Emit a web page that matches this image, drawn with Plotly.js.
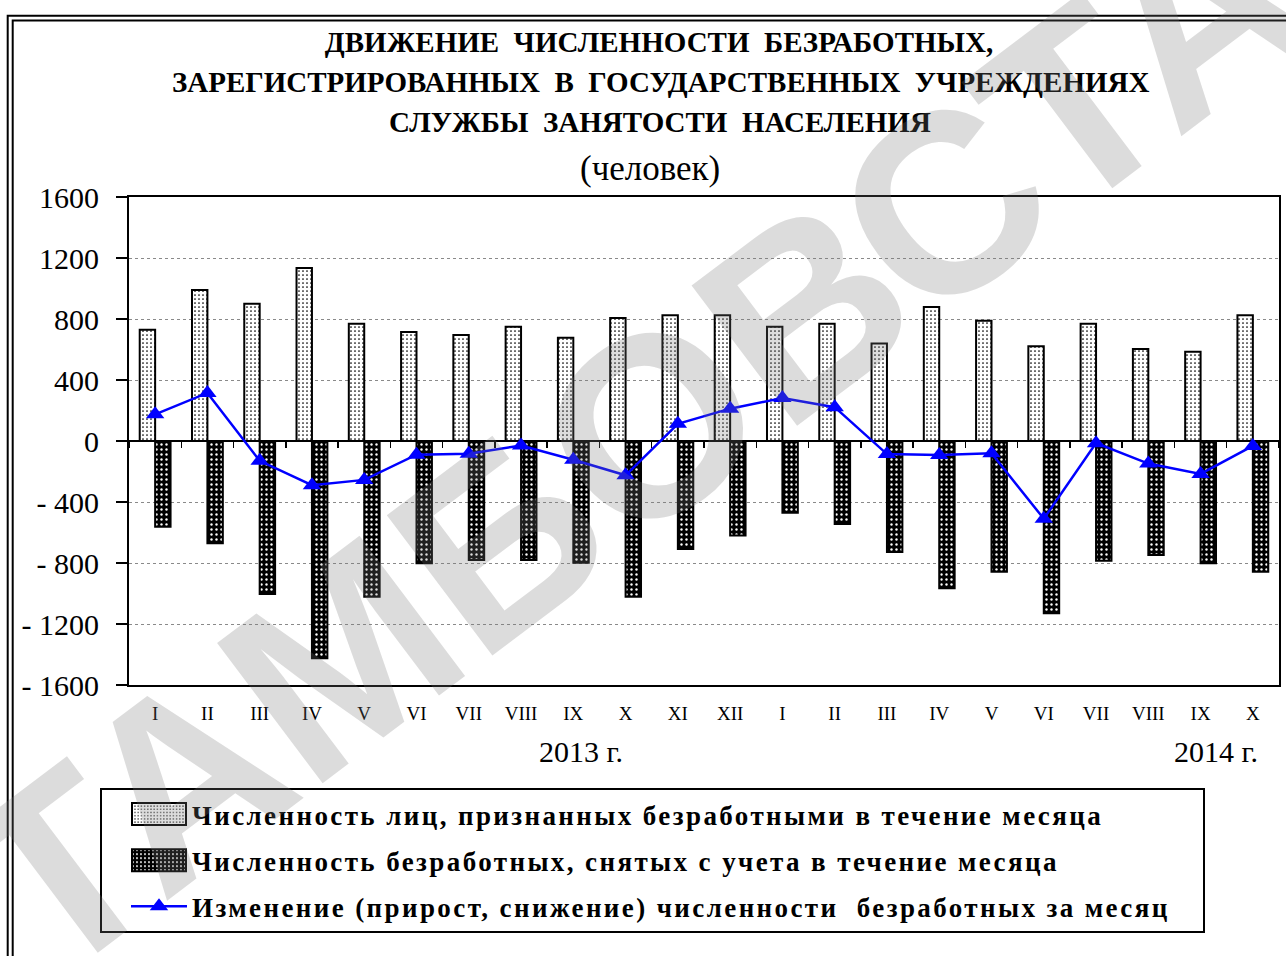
<!DOCTYPE html>
<html><head><meta charset="utf-8">
<script src="https://cdn.plot.ly/plotly-3.0.1.min.js"></script>
<style>
html,body{margin:0;padding:0;background:#fff}
.legendtext{letter-spacing:2.4px}
</style>
</head><body><div id="chart" style="width:1286px;height:956px"></div>
<script>
const periods = ['2013-I','2013-II','2013-III','2013-IV','2013-V','2013-VI','2013-VII','2013-VIII','2013-IX','2013-X','2013-XI','2013-XII','2014-I','2014-II','2014-III','2014-IV','2014-V','2014-VI','2014-VII','2014-VIII','2014-IX','2014-X'];
const monthLabels = ['I','II','III','IV','V','VI','VII','VIII','IX','X','XI','XII','I','II','III','IV','V','VI','VII','VIII','IX','X'];
const registered = [730, 990, 900, 1135, 769, 715, 695, 750, 677, 806, 824, 824, 750, 769, 640, 879, 789, 621, 769, 603, 586, 824];
const removed = [-562, -671, -1003, -1425, -1021, -802, -780, -780, -798, -1021, -708, -619, -470, -544, -728, -966, -857, -1130, -785, -748, -802, -857];
const change = [175, 315, -130, -290, -255, -90, -83, -30, -123, -225, 113, 212, 282, 222, -86, -92, -80, -510, -14, -148, -216, -32];
const yTickVals = [1600, 1200, 800, 400, 0, -400, -800, -1200, -1600];
const yTickText = ['1600', '1200', '800', '400', '0', '-\u00a0400', '-\u00a0800', '-\u00a01200', '-\u00a01600'];
const seriesNames = [
  'Численность лиц, признанных безработными в течение месяца',
  'Численность безработных, снятых с учета в течение месяца',
  'Изменение (прирост, снижение) численности\u00a0 безработных за месяц\u00a0\u00a0\u00a0'
];
const titleLines = [
  'ДВИЖЕНИЕ\u00a0 ЧИСЛЕННОСТИ\u00a0 БЕЗРАБОТНЫХ,',
  'ЗАРЕГИСТРИРОВАННЫХ\u00a0 В\u00a0 ГОСУДАРСТВЕННЫХ\u00a0 УЧРЕЖДЕНИЯХ',
  'СЛУЖБЫ\u00a0 ЗАНЯТОСТИ\u00a0 НАСЕЛЕНИЯ'
];
const unitLabel = '(человек)';
const yearLabels = ['2013 г.', '2014 г.'];
const watermark = 'ТАМБОВСТАТ';

const SERIF = 'Liberation Serif, Times New Roman, serif';

const traces = [
  {
    type: 'bar', x: periods, y: registered, name: seriesNames[0], legendgroup: 'a',
    marker: {
      color: '#ffffff',
      line: {color: '#000000', width: 2},
      pattern: {shape: '.', fgcolor: '#000000', bgcolor: '#ffffff', size: 4, solidity: 0.15}
    }
  },
  {
    type: 'bar', x: periods, y: removed, name: seriesNames[1], legendgroup: 'b',
    marker: {
      color: '#000000',
      line: {color: '#000000', width: 2},
      pattern: {shape: '.', fgcolor: '#ffffff', bgcolor: '#000000', size: 5, solidity: 0.18}
    }
  },
  {
    type: 'scatter', mode: 'lines+markers', x: periods, y: change, xaxis: 'x2',
    name: seriesNames[2], legendgroup: 'c',
    line: {color: '#0000ff', width: 2.5},
    marker: {symbol: 'triangle-up', size: 16, color: '#0000ff'}
  }
];

const W = 1286, H = 956, L = 129, R = 7, T = 197, B = 271;
const pw = W - L - R, ph = H - T - B;
const px = v => (v - L) / pw;
const py = v => (H - B - v) / ph;

const layout = {
  width: W, height: H,
  margin: {l: L, r: R, t: T, b: B, pad: 0},
  paper_bgcolor: '#ffffff', plot_bgcolor: '#ffffff',
  barmode: 'group', bargap: 0.41, bargroupgap: 0,
  showlegend: true,
  title: {
    text: titleLines[0],
    font: {family: SERIF, size: 29, weight: 700, color: '#000000'},
    xref: 'container', yref: 'container', x: 659 / W, y: 1 - 42 / H,
    xanchor: 'center', yanchor: 'middle'
  },
  xaxis: {
    type: 'category', range: [-0.5, 21.5],
    tickmode: 'array', tickvals: periods, ticktext: monthLabels,
    ticks: '', showgrid: false, zeroline: false,
    showline: true, linecolor: '#000000', linewidth: 2, mirror: true,
    tickfont: {family: SERIF, size: 19, color: '#000000'},
    ticklabelstandoff: 10
  },
  xaxis2: {
    type: 'category', overlaying: 'x', matches: 'x', anchor: 'free', position: 0.5,
    tickmode: 'array', tickvals: periods,
    ticks: 'outside', tickson: 'boundaries', ticklen: 6, tickwidth: 1.5, tickcolor: '#000000',
    showticklabels: false, showgrid: false, showline: false, zeroline: false
  },
  yaxis: {
    range: [-1600, 1600],
    tickmode: 'array', tickvals: yTickVals, ticktext: yTickText,
    ticks: 'outside', ticklen: 11, tickwidth: 2, tickcolor: '#000000',
    showline: true, linecolor: '#000000', linewidth: 2, mirror: true,
    showgrid: true, gridcolor: '#8a8a8a', gridwidth: 1, griddash: '3px,3px',
    zeroline: true, zerolinecolor: '#000000', zerolinewidth: 2,
    tickfont: {family: SERIF, size: 30, color: '#000000'},
    ticklabelstandoff: 11
  },
  legend: {
    x: px(100), y: py(788), xanchor: 'left', yanchor: 'top',
    bgcolor: '#ffffff', bordercolor: '#000000', borderwidth: 2,
    font: {family: SERIF, size: 27, weight: 700, color: '#000000'},
    itemwidth: 80, tracegroupgap: 8, traceorder: 'grouped'
  },
  annotations: [
    {text: titleLines[1], xref: 'paper', yref: 'paper', x: px(660), y: py(82), showarrow: false,
     xanchor: 'center', yanchor: 'middle', font: {family: SERIF, size: 29, weight: 700, color: '#000000'}},
    {text: titleLines[2], xref: 'paper', yref: 'paper', x: px(660), y: py(122), showarrow: false,
     xanchor: 'center', yanchor: 'middle', font: {family: SERIF, size: 29, weight: 700, color: '#000000'}},
    {text: unitLabel, xref: 'paper', yref: 'paper', x: px(650), y: py(168), showarrow: false,
     xanchor: 'center', yanchor: 'middle', font: {family: SERIF, size: 35, color: '#000000'}},
    {text: yearLabels[0], xref: 'paper', yref: 'paper', x: px(581), y: py(751), showarrow: false,
     xanchor: 'center', yanchor: 'middle', font: {family: SERIF, size: 30, color: '#000000'}},
    {text: yearLabels[1], xref: 'paper', yref: 'paper', x: px(1216), y: py(751), showarrow: false,
     xanchor: 'center', yanchor: 'middle', font: {family: SERIF, size: 30, color: '#000000'}},
    {text: watermark, xref: 'paper', yref: 'paper', x: px(690), y: py(395), showarrow: false,
     xanchor: 'center', yanchor: 'middle', textangle: -37,
     font: {family: 'Liberation Sans, Arial, sans-serif', size: 255, weight: 700, color: 'rgba(120,120,120,0.26)'}}
  ],
  shapes: [
    {type: 'rect', xref: 'paper', yref: 'paper', x0: px(7.7), x1: px(1400), y0: py(1100), y1: py(15.8),
     line: {color: '#000000', width: 2}, fillcolor: 'rgba(0,0,0,0)', layer: 'below'},
    {type: 'rect', xref: 'paper', yref: 'paper', x0: px(12.7), x1: px(1400), y0: py(1100), y1: py(20.5),
     line: {color: '#000000', width: 2}, fillcolor: 'rgba(0,0,0,0)', layer: 'below'}
  ]
};

function shiftTo(el, targetCenterX) {
  const r = el.getBoundingClientRect();
  const c = r.left + r.width / 2;
  const old = el.getAttribute('transform') || '';
  el.setAttribute('transform', 'translate(' + (targetCenterX - c) + ',0) ' + old);
}

Plotly.newPlot('chart', traces, layout, {displayModeBar: false, staticPlot: true}).then(function (gd) {
  // legend keys drawn as in the reference: wide rectangles and a 56px line, centred at x=159
  gd.querySelectorAll('.legend .traces').forEach(function (t, i) {
    if (i < 2) {
      t.querySelectorAll('.legendpoints path').forEach(function (p) {
        p.setAttribute('d', 'M27,11H-27V-11H27Z');
        shiftTo(p, 159);
      });
    } else {
      t.querySelectorAll('.legendlines path').forEach(function (p) {
        p.setAttribute('d', 'M5,0h56');
        shiftTo(p, 159);
      });
      t.querySelectorAll('.legendpoints path').forEach(function (p) {
        shiftTo(p, 159);
      });
    }
  });
});
</script>
</body></html>
